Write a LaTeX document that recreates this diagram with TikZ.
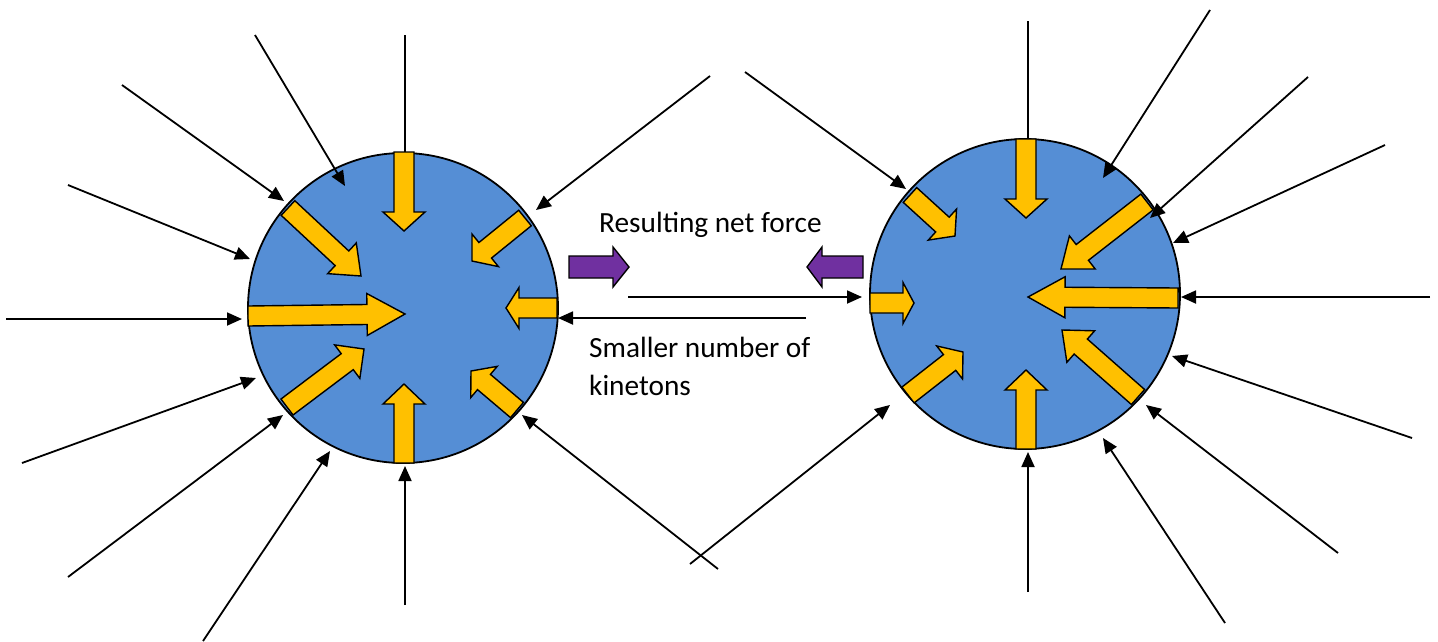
\documentclass[tikz,border=0pt]{standalone}
\usepackage{fontspec}
\setmainfont{Carlito}
\usetikzlibrary{arrows.meta,calc}
\definecolor{ballblue}{HTML}{558ED5}
\definecolor{pushyellow}{HTML}{FFC000}
\definecolor{netpurple}{HTML}{7030A0}
\tikzset{
  ball/.style={draw=black,line width=1.8pt,fill=ballblue},
  flux/.style={draw=black,line width=1.8pt,-{Triangle[length=15pt,width=13pt]}},
  yarrow/.style={draw=black,line width=1.4pt,fill=pushyellow,line join=miter},
  parrow/.style={draw=black,line width=1.4pt,fill=netpurple,line join=miter},
  lbl/.style={font=\fontsize{29.3}{34}\selectfont,anchor=base west,inner sep=0pt}
}
% #1 style, #2 start, #3 tip, #4 shaft half width, #5 head half width, #6 head length
\newcommand{\blockarr}[6]{%
  \path (#2) coordinate (ba-s) (#3) coordinate (ba-e);
  \path ($(ba-e)!#6!(ba-s)$) coordinate (ba-h);
  \draw[#1] ($(ba-s)!#4!90:(ba-e)$) -- ($(ba-h)!#4!-90:(ba-s)$) -- ($(ba-h)!#5!-90:(ba-s)$) -- (ba-e)
    -- ($(ba-h)!#5!90:(ba-s)$) -- ($(ba-h)!#4!90:(ba-s)$) -- ($(ba-s)!#4!-90:(ba-e)$) -- cycle;
}
\begin{document}
\begin{tikzpicture}[x=1pt,y=-1pt]
\useasboundingbox (0,0) rectangle (1438,641);
% balls
\node[ball,circle,minimum size=310pt,inner sep=0pt] (L) at (403,308) {};
\node[ball,circle,minimum size=310pt,inner sep=0pt] (R) at (1025,294) {};
% incoming kineton lines, left ball
\coordinate (la1s) at (255,35);  \coordinate (la1e) at (345,186);
\coordinate (la2s) at (405,35);  \coordinate (la2e) at (405,175);
\coordinate (la3s) at (122,85);  \coordinate (la3e) at (284,201);
\coordinate (la4s) at (68,185);  \coordinate (la4e) at (250,259);
\coordinate (la5s) at (6,319);   \coordinate (la5e) at (242,319);
\coordinate (la6s) at (22,463);  \coordinate (la6e) at (256,378);
\coordinate (la7s) at (68,577);  \coordinate (la7e) at (283,415);
\coordinate (la8s) at (203,641); \coordinate (la8e) at (330,451);
\coordinate (la9s) at (405,605); \coordinate (la9e) at (405,466);
\coordinate (la10s) at (718,569);\coordinate (la10e) at (522,415);
\coordinate (la11s) at (806,318);\coordinate (la11e) at (558,318);
\coordinate (la12s) at (710,76); \coordinate (la12e) at (536,210);
% incoming kineton lines, right ball
\coordinate (ra1s) at (745,72);   \coordinate (ra1e) at (906,189);
\coordinate (ra2s) at (1028,21);  \coordinate (ra2e) at (1028,160);
\coordinate (ra3s) at (1210,10);  \coordinate (ra3e) at (1103,178);
\coordinate (ra4s) at (1308,77);  \coordinate (ra4e) at (1150,218);
\coordinate (ra5s) at (1385,145); \coordinate (ra5e) at (1173,243);
\coordinate (ra6s) at (1430,297); \coordinate (ra6e) at (1181,297);
\coordinate (ra7s) at (1412,438); \coordinate (ra7e) at (1172,356);
\coordinate (ra8s) at (1338,553); \coordinate (ra8e) at (1146,405);
\coordinate (ra9s) at (1225,623); \coordinate (ra9e) at (1103,438);
\coordinate (ra10s) at (1028,592);\coordinate (ra10e) at (1028,452);
\coordinate (ra11s) at (690,564); \coordinate (ra11e) at (890,405);
\coordinate (ra12s) at (628,297); \coordinate (ra12e) at (862,297);
\foreach \i in {1,...,12}{
  \draw[flux] (la\i s) -- (la\i e);
  \draw[flux] (ra\i s) -- (ra\i e);
}
% yellow push arrows, left ball
\blockarr{yarrow}{404,152}{404,231}{10pt}{21pt}{19pt}
\blockarr{yarrow}{404,463}{404,384}{10pt}{21pt}{20pt}
\blockarr{yarrow}{248,316}{405,314}{10pt}{21pt}{38pt}
\blockarr{yarrow}{557,308}{506,308}{10pt}{20.5pt}{13pt}
\blockarr{yarrow}{288,208}{361,276}{10pt}{21pt}{26pt}
\blockarr{yarrow}{525,218}{472,261}{10pt}{21pt}{17pt}
\blockarr{yarrow}{287,407}{364,349}{10pt}{21pt}{21pt}
\blockarr{yarrow}{517,410}{471,371}{10pt}{20.5pt}{17pt}
% yellow push arrows, right ball
\blockarr{yarrow}{1026,139}{1026,218}{10pt}{21pt}{19pt}
\blockarr{yarrow}{1026,449}{1026,370}{10pt}{21pt}{20pt}
\blockarr{yarrow}{870,303}{914,303}{10pt}{20.5pt}{11pt}
\blockarr{yarrow}{1178,298}{1028,297}{10pt}{20.5pt}{37pt}
\blockarr{yarrow}{910,195}{955,236}{10pt}{21pt}{17pt}
\blockarr{yarrow}{1147,202}{1061,269}{10pt}{21pt}{27pt}
\blockarr{yarrow}{908,395}{963,352}{10pt}{21pt}{17pt}
\blockarr{yarrow}{1138,397}{1062,330}{10pt}{21pt}{25pt}
% net force arrows
\blockarr{parrow}{569,267}{629,267}{11pt}{20pt}{16pt}
\blockarr{parrow}{863,267}{807,267}{11pt}{20pt}{15pt}
% labels
\node[lbl] (t1) at (599,232) {Resulting net force};
\node[lbl] (t2) at (589,357) {Smaller number of};
\node[lbl] (t3) at (589,395) {kinetons};
\end{tikzpicture}
\end{document}
